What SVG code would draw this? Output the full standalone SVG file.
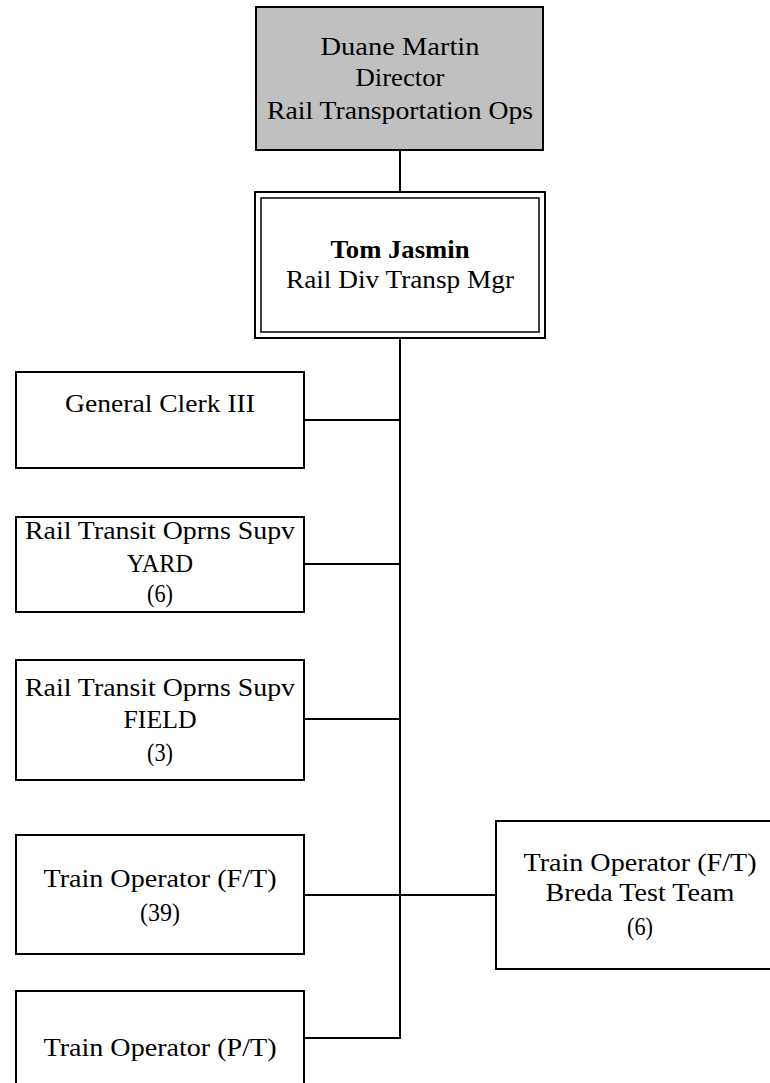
<svg xmlns="http://www.w3.org/2000/svg" width="770" height="1083" viewBox="0 0 770 1083">
<style>
.box{fill:#ffffff;stroke:#000000;stroke-width:2}
.gray{fill:#c0c0c0;stroke:#000000;stroke-width:2}
.ln{fill:none;stroke:#000000;stroke-width:2}
text{font-family:"Liberation Serif","Times New Roman",serif;font-size:26px;fill:#000000;text-anchor:middle}
.b{font-weight:bold}
</style>
<rect width="770" height="1083" fill="#ffffff"/>
<g id="connectors">
<line class="ln" x1="400" y1="150" x2="400" y2="192"/>
<line class="ln" x1="400" y1="338" x2="400" y2="1038"/>
<line class="ln" x1="304" y1="420" x2="400" y2="420"/>
<line class="ln" x1="304" y1="564" x2="400" y2="564"/>
<line class="ln" x1="304" y1="719" x2="400" y2="719"/>
<line class="ln" x1="304" y1="895" x2="496" y2="895"/>
<line class="ln" x1="304" y1="1038" x2="401" y2="1038"/>
</g>
<g id="director">
<rect class="gray" x="256" y="7" width="287" height="143"/>
<text x="400" y="55" textLength="159" lengthAdjust="spacingAndGlyphs">Duane Martin</text>
<text x="400" y="86" textLength="89" lengthAdjust="spacingAndGlyphs">Director</text>
<text x="400" y="119" textLength="266" lengthAdjust="spacingAndGlyphs">Rail Transportation Ops</text>
</g>
<g id="manager">
<rect class="box" x="255" y="192" width="290" height="146"/>
<rect fill="none" stroke="#000" stroke-width="1.5" x="261" y="198" width="278" height="134"/>
<text class="b" x="400" y="258" textLength="139" lengthAdjust="spacingAndGlyphs">Tom Jasmin</text>
<text x="400" y="288" textLength="228" lengthAdjust="spacingAndGlyphs">Rail Div Transp Mgr</text>
</g>
<g id="clerk">
<rect class="box" x="16" y="372" width="288" height="96"/>
<text x="160" y="412" textLength="190" lengthAdjust="spacingAndGlyphs">General Clerk III</text>
</g>
<g id="yard">
<rect class="box" x="16" y="517" width="288" height="95"/>
<text x="160" y="539" textLength="270" lengthAdjust="spacingAndGlyphs">Rail Transit Oprns Supv</text>
<text x="160" y="572" textLength="66" lengthAdjust="spacingAndGlyphs">YARD</text>
<text x="160" y="602" textLength="26" lengthAdjust="spacingAndGlyphs">(6)</text>
</g>
<g id="field">
<rect class="box" x="16" y="660" width="288" height="120"/>
<text x="160" y="696" textLength="270" lengthAdjust="spacingAndGlyphs">Rail Transit Oprns Supv</text>
<text x="160" y="728" textLength="73" lengthAdjust="spacingAndGlyphs">FIELD</text>
<text x="160" y="761" textLength="26" lengthAdjust="spacingAndGlyphs">(3)</text>
</g>
<g id="train-ft">
<rect class="box" x="16" y="835" width="288" height="119"/>
<text x="160" y="887" textLength="233" lengthAdjust="spacingAndGlyphs">Train Operator (F/T)</text>
<text x="160" y="921" textLength="40" lengthAdjust="spacingAndGlyphs">(39)</text>
</g>
<g id="train-pt">
<rect class="box" x="16" y="991" width="288" height="120"/>
<text x="160" y="1056" textLength="233" lengthAdjust="spacingAndGlyphs">Train Operator (P/T)</text>
</g>
<g id="breda">
<rect class="box" x="496" y="821" width="288" height="148"/>
<text x="640" y="871" textLength="233" lengthAdjust="spacingAndGlyphs">Train Operator (F/T)</text>
<text x="640" y="901" textLength="189" lengthAdjust="spacingAndGlyphs">Breda Test Team</text>
<text x="640" y="935" textLength="26" lengthAdjust="spacingAndGlyphs">(6)</text>
</g>
</svg>
